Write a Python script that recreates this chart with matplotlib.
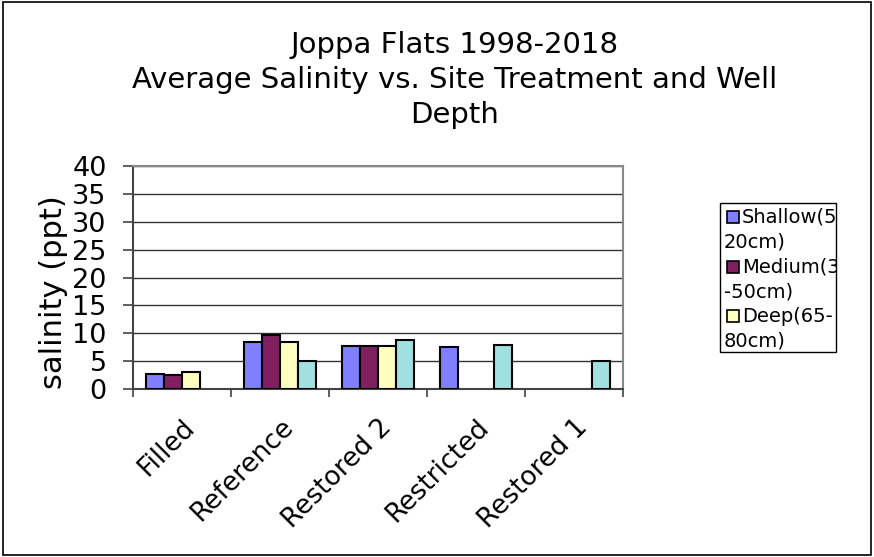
import numpy as np
import matplotlib
matplotlib.use("Agg")
import matplotlib.pyplot as plt
from matplotlib.patches import Rectangle

categories = ["Filled", "Reference", "Restored 2", "Restricted", "Restored 1"]
shallow = [2.7, 8.5, 7.7, 7.6, np.nan]
medium = [2.5, 9.7, 7.7, np.nan, np.nan]
deep = [3.1, 8.4, 7.7, np.nan, np.nan]
fourth = [np.nan, 5.0, 8.7, 7.9, 5.1]
legend_labels = [["Shallow(5-", "20cm)"], ["Medium(35", "-50cm)"], ["Deep(65-", "80cm)"]]
yticks = [0, 5, 10, 15, 20, 25, 30, 35, 40]

colors = ["#8080FF", "#802060", "#FFFFC0", "#A0E0E0"]

W, H = 874, 557
fig = plt.figure(figsize=(W / 100, H / 100), dpi=100)
ax = fig.add_axes([133 / W, 1 - 389 / H, (623 - 133) / W, (389 - 166) / H])

x = np.arange(len(categories))
w = 0.184
series = [shallow, medium, deep, fourth]
for k, vals in enumerate(series):
    ax.bar(x + (k - 1.5) * w, vals, width=w, color=colors[k],
           edgecolor="black", linewidth=1.5, zorder=3)

ax.set_xlim(-0.5, len(categories) - 0.5)
ax.set_ylim(0, 40)
ax.set_yticks(yticks)
ax.set_yticklabels([str(t) for t in yticks], fontsize=19.5)
ax.yaxis.grid(True, color="#333333", linewidth=1.0, zorder=0)
ax.set_axisbelow(True)

ax.set_xticks(np.arange(len(categories) + 1) - 0.5)
ax.set_xticklabels([])
ax.set_xticks(x, minor=True)
ax.set_xticklabels(categories, minor=True, rotation=45, ha="right",
                   va="top", rotation_mode="anchor", fontsize=19)
ax.tick_params(axis="x", which="minor", length=0, pad=18)
ax.tick_params(axis="x", which="major", length=6, width=1.2, color="#444444", direction="out")
ax.tick_params(axis="y", length=7, width=1.2, color="#444444", direction="out", pad=12)

for s in ["top", "right"]:
    ax.spines[s].set_color("#888888")
    ax.spines[s].set_linewidth(1.5)
for s in ["left", "bottom"]:
    ax.spines[s].set_color("#444444")
    ax.spines[s].set_linewidth(1.5)

ax.set_ylabel("salinity (ppt)", fontsize=22)
ax.yaxis.set_label_coords(-0.133, 0.435)

fig.text(455 / W, 1 - 80 / H,
         "Joppa Flats 1998-2018\nAverage Salinity vs. Site Treatment and Well\nDepth",
         ha="center", va="center", fontsize=21, linespacing=1.3)

# legend box (only the three depth series are listed)
lx0, ly0, lx1, ly1 = 720, 203, 836, 352
box = Rectangle((lx0 / W, 1 - ly1 / H), (lx1 - lx0) / W, (ly1 - ly0) / H,
                transform=fig.transFigure, facecolor="white", edgecolor="black",
                linewidth=1.0, zorder=5)
fig.patches.append(box)
line_y = [217, 242, 267, 292, 316, 341]
for i, (l1, l2) in enumerate(legend_labels):
    y1 = line_y[2 * i]
    y2 = line_y[2 * i + 1]
    fig.patches.append(Rectangle((727 / W, 1 - (y1 + 6) / H), 12 / W, 12 / H,
                                 transform=fig.transFigure, facecolor=colors[i],
                                 edgecolor="black", linewidth=1.2, zorder=6))
    t1 = fig.text(742 / W, 1 - y1 / H, l1, ha="left", va="center", fontsize=14, zorder=6)
    t2 = fig.text(724 / W, 1 - y2 / H, l2, ha="left", va="center", fontsize=14, zorder=6)
    t1.set_clip_path(box)
    t2.set_clip_path(box)

fig.patches.append(Rectangle((0.004, 0.004), 0.992, 0.992, transform=fig.transFigure,
                             fill=False, edgecolor="black", linewidth=1.2))

fig.savefig("out.png", dpi=100)
